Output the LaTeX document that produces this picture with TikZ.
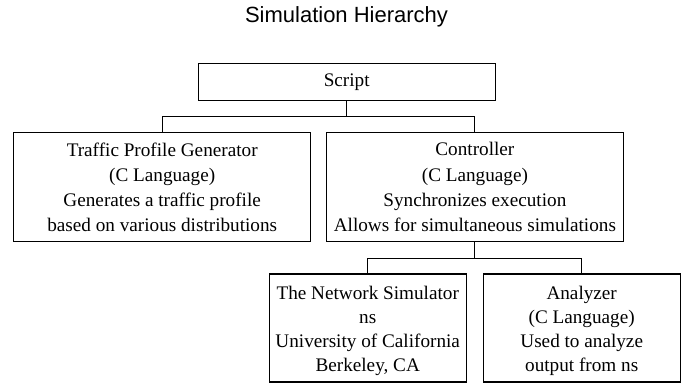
\documentclass[tikz,border=0pt]{standalone}
\usepackage{fontspec}
\setmainfont{Liberation Serif}
\newfontfamily\titlefont{Liberation Sans}
\begin{document}
\begin{tikzpicture}[x=0.75pt,y=-0.75pt,
  box/.style={draw=black, line width=0.8pt, inner sep=2pt, align=center,
    font=\fontsize{14.4pt}{18.9pt}\selectfont},
  topbox/.style={box, minimum width=222.75pt, minimum height=81.75pt},
  lowbox/.style={box, minimum width=147.5pt, minimum height=81pt,
    font=\fontsize{14.4pt}{18pt}\selectfont},
  wire/.style={draw=black, line width=0.8pt}]
\useasboundingbox (0,0) rectangle (686,386);
\fill[white] (0,0) rectangle (686,386);

\node[anchor=base, font=\titlefont\fontsize{16.5pt}{20pt}\selectfont] (title) at (346.5,22.7) {Simulation Hierarchy};

\node[box, minimum width=222.5pt, minimum height=28pt] (script) at (346.7,82) {Script};

\node[topbox] (traffic) at (162.2,187.2) {Traffic Profile Generator\\(C Language)\\Generates a traffic profile\\based on various distributions};
\node[topbox] (ctrl) at (474.9,187.2) {Controller\\(C Language)\\Synchronizes execution\\Allows for simultaneous simulations};

\node[lowbox] (ns) at (367.7,328) {\rule{0pt}{15pt}The Network Simulator\\ns\\University of California\\Berkeley, CA};
\node[lowbox] (an) at (581.7,328) {\rule{0pt}{15pt}Analyzer\\(C Language)\\Used to analyze\\output from ns};

\coordinate (b1) at (346.7,116.7);
\coordinate (b2) at (474.9,258.3);

\draw[wire] (script.south) -- (script.south |- b1);
\draw[wire] (traffic.north) |- (ctrl.north |- b1) -- (ctrl.north);
\draw[wire] (ctrl.south) -- (ctrl.south |- b2);
\draw[wire] (ns.north) |- (an.north |- b2) -- (an.north);
\end{tikzpicture}
\end{document}
